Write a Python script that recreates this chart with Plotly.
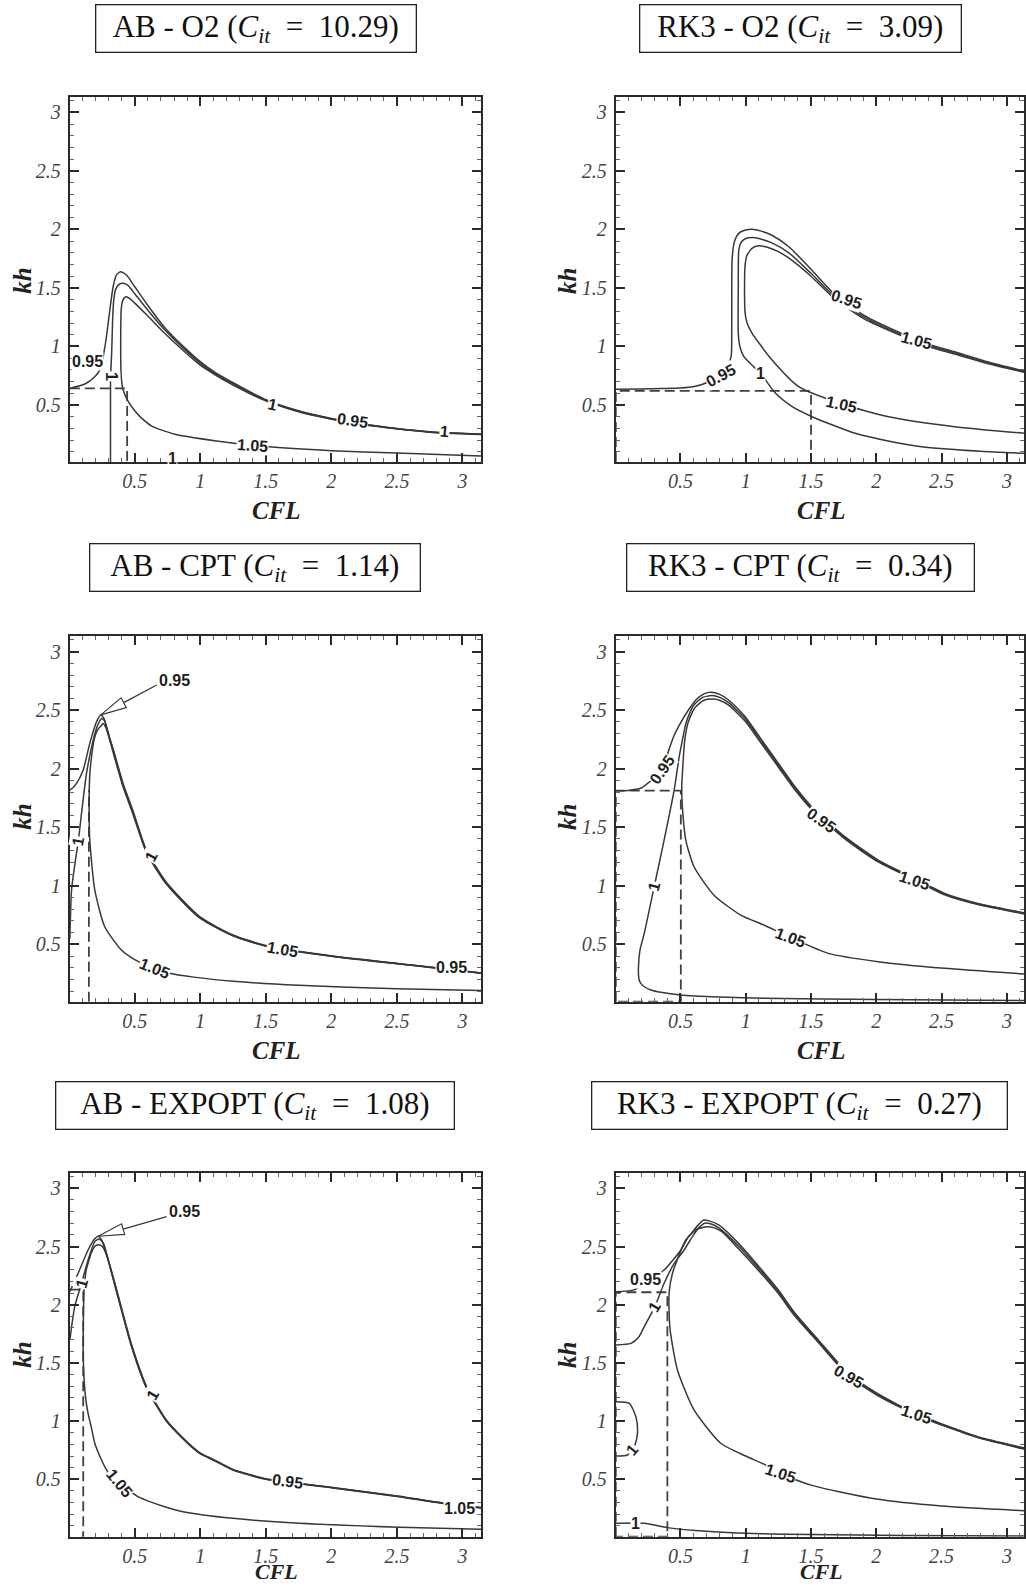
import math
import plotly.graph_objects as go

# ---------------- data ----------------
# Panel 1: AB - O2
P1_095_X = [0.005, 0.119, 0.195, 0.234, 0.259, 0.284, 0.31, 0.335, 0.36, 0.391, 0.437, 0.50, 0.60, 0.73, 0.88, 1.0, 1.11, 1.25, 1.50, 1.75, 2.0, 2.25, 2.5, 2.75, 3.142]
P1_095_Y = [0.642, 0.679, 0.742, 0.80, 0.913, 1.083, 1.311, 1.51, 1.61, 1.639, 1.61, 1.51, 1.35, 1.16, 0.99, 0.87, 0.78, 0.69, 0.545, 0.45, 0.385, 0.335, 0.30, 0.272, 0.252]
P1_100_X = [0.315, 0.315, 0.318, 0.324, 0.328, 0.332, 0.34, 0.355, 0.38, 0.411, 0.45, 0.50, 0.60, 0.73, 0.88, 1.0, 1.11, 1.25, 1.50, 1.75, 2.0, 2.25, 2.5, 2.75, 3.142]
P1_100_Y = [0.012, 0.72, 0.80, 0.95, 1.10, 1.25, 1.40, 1.49, 1.53, 1.539, 1.52, 1.45, 1.31, 1.14, 0.975, 0.855, 0.77, 0.68, 0.54, 0.446, 0.382, 0.333, 0.298, 0.27, 0.25]
P1_105_X = [3.142, 2.5, 2.0, 1.5, 1.109, 0.805, 0.63, 0.55, 0.50, 0.45, 0.411, 0.397, 0.393, 0.393, 0.396, 0.405, 0.42, 0.437, 0.46, 0.50, 0.60, 0.73, 0.88, 1.0, 1.11, 1.25, 1.5, 1.75, 2.0, 2.25, 2.5, 2.75, 3.142]
P1_105_Y = [0.065, 0.09, 0.11, 0.145, 0.195, 0.25, 0.32, 0.39, 0.45, 0.53, 0.63, 0.74, 0.90, 1.10, 1.30, 1.38, 1.415, 1.425, 1.41, 1.37, 1.26, 1.11, 0.955, 0.84, 0.76, 0.67, 0.535, 0.442, 0.379, 0.331, 0.296, 0.268, 0.248]
P1_DASH_X = [0.005, 0.442, 0.442]
P1_DASH_Y = [0.642, 0.642, 0.013]
P1_LBL_TEXT = ["0.95", "1", "1", "0.95", "1", "1.05", "1"]
P1_LBL_X = [0.14, 0.322, 1.553, 2.16, 2.86, 1.40, 0.79]
P1_LBL_Y = [0.87, 0.745, 0.50, 0.366, 0.272, 0.15, 0.045]
P1_LBL_ANG = [0, 90, 12, 8, 5, 4, 0]

# Panel 2: RK3 - O2
P2_095_X = [0.005, 0.2, 0.36, 0.5, 0.614, 0.70, 0.808, 0.86, 0.885, 0.891, 0.893, 0.896, 0.915, 0.95, 1.0, 1.062, 1.12, 1.2, 1.33, 1.5, 1.673, 1.9, 2.194, 2.4, 2.6, 2.85, 3.131]
P2_095_Y = [0.634, 0.636, 0.64, 0.645, 0.66, 0.69, 0.756, 0.83, 0.90, 0.95, 1.30, 1.75, 1.90, 1.97, 1.995, 2.0, 1.985, 1.95, 1.852, 1.66, 1.454, 1.27, 1.112, 1.02, 0.955, 0.87, 0.79]
P2_100_X = [3.131, 2.8, 2.347, 2.1, 1.839, 1.508, 1.35, 1.228, 1.113, 1.03, 0.986, 0.955, 0.943, 0.943, 0.947, 0.965, 1.0, 1.05, 1.1, 1.2, 1.33, 1.5, 1.673, 1.9, 2.194, 2.4, 2.6, 2.85, 3.131]
P2_100_Y = [0.087, 0.105, 0.144, 0.19, 0.258, 0.40, 0.49, 0.60, 0.77, 0.86, 0.913, 1.0, 1.11, 1.5, 1.824, 1.89, 1.922, 1.93, 1.922, 1.885, 1.80, 1.625, 1.435, 1.255, 1.10, 1.01, 0.945, 0.862, 0.785]
P2_105_X = [3.131, 2.6, 2.093, 1.737, 1.406, 1.202, 1.049, 1.01, 0.994, 0.994, 1.01, 1.05, 1.1, 1.16, 1.25, 1.35, 1.5, 1.673, 1.9, 2.194, 2.4, 2.6, 2.85, 3.131]
P2_105_Y = [0.258, 0.315, 0.40, 0.508, 0.656, 0.884, 1.112, 1.2, 1.3, 1.68, 1.78, 1.84, 1.86, 1.85, 1.81, 1.74, 1.60, 1.415, 1.24, 1.09, 1.0, 0.935, 0.855, 0.78]
P2_DASH_X = [0.005, 0.005, 1.5, 1.5]
P2_DASH_Y = [0.013, 0.62, 0.62, 0.013]
P2_LBL_TEXT = ["0.95", "1", "1.05", "0.95", "1.05"]
P2_LBL_X = [0.808, 1.113, 1.737, 1.775, 2.31]
P2_LBL_Y = [0.756, 0.77, 0.508, 1.40, 1.055]
P2_LBL_ANG = [-28, 0, 12, 18, 15]

# Panel 3: AB - CPT
P3_095_X = [0.005, 0.03, 0.056, 0.107, 0.157, 0.208, 0.241, 0.265, 0.29, 0.335, 0.411, 0.487, 0.589, 0.741, 0.995, 1.249, 1.50, 2.01, 2.52, 2.77, 3.142]
P3_095_Y = [1.818, 1.84, 1.875, 1.99, 2.217, 2.40, 2.46, 2.43, 2.33, 2.17, 1.875, 1.64, 1.305, 1.03, 0.736, 0.58, 0.49, 0.40, 0.335, 0.305, 0.256]
P3_100_X = [0.005, 0.018, 0.045, 0.069, 0.094, 0.132, 0.183, 0.22, 0.248, 0.27, 0.295, 0.335, 0.411, 0.487, 0.589, 0.741, 0.995, 1.249, 1.5, 2.01, 2.52, 2.77, 3.142]
P3_100_Y = [0.55, 0.964, 1.20, 1.377, 1.62, 1.96, 2.245, 2.38, 2.43, 2.41, 2.32, 2.155, 1.86, 1.625, 1.295, 1.022, 0.73, 0.576, 0.487, 0.398, 0.333, 0.303, 0.255]
P3_105_X = [3.142, 2.5, 1.75, 1.25, 0.95, 0.805, 0.652, 0.50, 0.398, 0.271, 0.195, 0.157, 0.152, 0.157, 0.17, 0.19, 0.215, 0.245, 0.259, 0.28, 0.30, 0.335, 0.411, 0.487, 0.589, 0.741, 0.995, 1.249, 1.5, 2.01, 2.52, 2.77, 3.142]
P3_105_Y = [0.105, 0.12, 0.15, 0.185, 0.22, 0.245, 0.29, 0.37, 0.452, 0.65, 0.965, 1.39, 1.70, 1.95, 2.10, 2.25, 2.33, 2.37, 2.386, 2.35, 2.28, 2.14, 1.845, 1.61, 1.285, 1.015, 0.725, 0.572, 0.484, 0.396, 0.331, 0.301, 0.254]
P3_DASH_X = [0.15, 0.15]
P3_DASH_Y = [0.01, 1.818]
P3_LBL_TEXT = ["1", "1.05", "0.95", "1", "1.05"]
P3_LBL_X = [0.627, 1.63, 2.916, 0.069, 0.652]
P3_LBL_Y = [1.249, 0.457, 0.30, 1.377, 0.29]
P3_LBL_ANG = [-62, 10, 0, -80, 22]
P3_ARROW_TEXT_X = 0.805
P3_ARROW_TEXT_Y = 2.758

# Panel 4: RK3 - CPT
P4_095_X = [0.005, 0.1, 0.2, 0.248, 0.3, 0.363, 0.411, 0.45, 0.5, 0.56, 0.62, 0.68, 0.734, 0.8, 0.869, 0.996, 1.123, 1.25, 1.378, 1.505, 1.759, 2.014, 2.294, 2.523, 2.777, 3.131]
P4_095_Y = [1.813, 1.815, 1.835, 1.875, 1.92, 1.99, 2.16, 2.28, 2.39, 2.50, 2.59, 2.64, 2.653, 2.635, 2.587, 2.445, 2.245, 2.046, 1.846, 1.676, 1.42, 1.22, 1.064, 0.935, 0.85, 0.77]
P4_100_X = [3.131, 2.0, 1.139, 0.8, 0.503, 0.35, 0.274, 0.22, 0.197, 0.184, 0.178, 0.19, 0.223, 0.299, 0.375, 0.452, 0.49, 0.515, 0.545, 0.6, 0.67, 0.742, 0.8, 0.869, 0.996, 1.123, 1.25, 1.378, 1.505, 1.759, 2.014, 2.294, 2.523, 2.777, 3.131]
P4_100_Y = [0.02, 0.028, 0.039, 0.05, 0.067, 0.09, 0.11, 0.14, 0.167, 0.195, 0.29, 0.45, 0.594, 0.992, 1.391, 1.818, 2.10, 2.245, 2.40, 2.54, 2.61, 2.625, 2.61, 2.565, 2.425, 2.228, 2.03, 1.832, 1.664, 1.41, 1.212, 1.057, 0.929, 0.845, 0.765]
P4_105_X = [3.131, 2.523, 2.014, 1.632, 1.34, 1.139, 0.961, 0.757, 0.604, 0.541, 0.515, 0.51, 0.515, 0.533, 0.56, 0.61, 0.68, 0.754, 0.8, 0.869, 0.996, 1.123, 1.25, 1.378, 1.505, 1.759, 2.014, 2.294, 2.523, 2.777, 3.131]
P4_105_Y = [0.247, 0.295, 0.352, 0.423, 0.56, 0.665, 0.75, 0.92, 1.163, 1.391, 1.676, 1.85, 1.96, 2.245, 2.40, 2.52, 2.585, 2.596, 2.585, 2.543, 2.405, 2.21, 2.015, 1.818, 1.652, 1.40, 1.204, 1.05, 0.923, 0.84, 0.76]
P4_DASH_X = [0.005, 0.005, 0.503, 0.503, 0.005]
P4_DASH_Y = [0.01, 1.813, 1.813, 0.01, 0.01]
P4_LBL_TEXT = ["0.95", "1", "0.95", "1.05", "1.05"]
P4_LBL_X = [0.363, 0.299, 1.582, 2.294, 1.34]
P4_LBL_Y = [1.99, 0.992, 1.562, 1.044, 0.56]
P4_LBL_ANG = [-55, -75, 35, 18, 20]

# Panel 5: AB - EXPOPT
P5_095_X = [0.005, 0.068, 0.144, 0.19, 0.221, 0.25, 0.284, 0.335, 0.411, 0.475, 0.589, 0.741, 0.855, 0.995, 1.109, 1.249, 1.5, 2.01, 2.518, 2.77, 3.142]
P5_095_Y = [2.112, 2.27, 2.47, 2.56, 2.588, 2.55, 2.43, 2.24, 1.92, 1.66, 1.30, 1.01, 0.87, 0.73, 0.665, 0.585, 0.505, 0.43, 0.355, 0.31, 0.258]
P5_100_X = [0.005, 0.042, 0.094, 0.144, 0.195, 0.228, 0.26, 0.29, 0.335, 0.411, 0.475, 0.589, 0.741, 0.855, 0.995, 1.109, 1.249, 1.5, 2.01, 2.518, 2.77, 3.142]
P5_100_Y = [1.697, 1.983, 2.184, 2.384, 2.542, 2.565, 2.53, 2.42, 2.23, 1.91, 1.65, 1.292, 1.005, 0.866, 0.726, 0.662, 0.582, 0.502, 0.428, 0.353, 0.308, 0.256]
P5_105_X = [3.142, 2.518, 1.756, 1.249, 0.868, 0.728, 0.614, 0.525, 0.45, 0.386, 0.31, 0.271, 0.233, 0.195, 0.17, 0.144, 0.125, 0.114, 0.107, 0.107, 0.114, 0.13, 0.144, 0.17, 0.2, 0.234, 0.26, 0.29, 0.335, 0.411, 0.475, 0.589, 0.741, 0.855, 0.995, 1.109, 1.249, 1.5, 2.01, 2.518, 2.77, 3.142]
P5_105_Y = [0.07, 0.088, 0.122, 0.165, 0.222, 0.265, 0.308, 0.351, 0.41, 0.466, 0.54, 0.609, 0.70, 0.81, 0.94, 1.067, 1.20, 1.353, 1.55, 1.783, 2.127, 2.30, 2.356, 2.45, 2.505, 2.513, 2.49, 2.41, 2.22, 1.90, 1.64, 1.285, 1.0, 0.862, 0.722, 0.659, 0.58, 0.50, 0.426, 0.351, 0.306, 0.254]
P5_DASH_X = [0.005, 0.107, 0.107]
P5_DASH_Y = [2.13, 2.13, 0.007]
P5_LBL_TEXT = ["1", "1", "0.95", "1.05", "1.05"]
P5_LBL_X = [0.094, 0.632, 1.668, 2.975, 0.386]
P5_LBL_Y = [2.184, 1.224, 0.48, 0.25, 0.466]
P5_LBL_ANG = [-75, -60, 8, 0, 50]
P5_ARROW_TEXT_X = 0.88
P5_ARROW_TEXT_Y = 2.80

# Panel 6: RK3 - EXPOPT
P6_095_X = [0.005, 0.146, 0.236, 0.3, 0.375, 0.44, 0.503, 0.56, 0.604, 0.64, 0.678, 0.72, 0.793, 0.945, 1.123, 1.25, 1.378, 1.556, 1.785, 2.014, 2.307, 2.523, 2.777, 3.131]
P6_095_Y = [2.112, 2.127, 2.20, 2.245, 2.298, 2.38, 2.47, 2.58, 2.642, 2.69, 2.728, 2.72, 2.685, 2.527, 2.298, 2.126, 1.926, 1.697, 1.41, 1.233, 1.061, 0.967, 0.866, 0.77]
P6_100A_X = [0.005, 0.121, 0.18, 0.223, 0.304, 0.375, 0.45, 0.528, 0.6, 0.64, 0.686, 0.73, 0.793, 0.945, 1.123, 1.25, 1.378, 1.556, 1.785, 2.014, 2.307, 2.523, 2.777, 3.131]
P6_100A_Y = [1.654, 1.668, 1.72, 1.811, 1.983, 2.184, 2.35, 2.47, 2.60, 2.66, 2.70, 2.695, 2.66, 2.505, 2.28, 2.11, 1.912, 1.685, 1.40, 1.225, 1.055, 0.962, 0.862, 0.765]
P6_100B_X = [0.005, 0.108, 0.159, 0.172, 0.165, 0.146, 0.095, 0.005]
P6_100B_Y = [1.167, 1.153, 1.038, 0.924, 0.85, 0.78, 0.709, 0.70]
P6_100C_X = [0.005, 0.223, 0.40, 0.614, 0.996, 1.5, 2.2, 3.131]
P6_100C_Y = [0.122, 0.122, 0.085, 0.06, 0.036, 0.025, 0.018, 0.012]
P6_105_X = [3.131, 2.5, 2.0, 1.5, 1.27, 1.139, 1.0, 0.808, 0.604, 0.477, 0.421, 0.413, 0.413, 0.439, 0.541, 0.62, 0.704, 0.76, 0.82, 0.945, 1.123, 1.25, 1.378, 1.556, 1.785, 2.014, 2.307, 2.523, 2.777, 3.131]
P6_105_Y = [0.23, 0.27, 0.33, 0.45, 0.55, 0.63, 0.70, 0.81, 1.096, 1.439, 1.783, 1.95, 2.10, 2.27, 2.556, 2.645, 2.67, 2.66, 2.625, 2.48, 2.262, 2.095, 1.90, 1.675, 1.39, 1.218, 1.05, 0.957, 0.858, 0.76]
P6_DASH_X = [0.005, 0.005, 0.40, 0.40, 0.005]
P6_DASH_Y = [0.007, 2.107, 2.107, 0.007, 0.007]
P6_LBL_TEXT = ["0.95", "1", "1", "1", "0.95", "1.05", "1.05"]
P6_LBL_X = [0.236, 0.304, 0.134, 0.159, 1.785, 2.307, 1.27]
P6_LBL_Y = [2.215, 1.983, 0.752, 0.122, 1.38, 1.061, 0.55]
P6_LBL_ANG = [0, -60, -50, 0, 30, 18, 18]

TITLES = ["AB - O2", "RK3 - O2", "AB - CPT", "RK3 - CPT", "AB - EXPOPT", "RK3 - EXPOPT"]
C_IT = ["10.29", "3.09", "1.14", "0.34", "1.08", "0.27"]

# ---------------- layout geometry (pixels) ----------------
W, H = 1026, 1586
COLS = {"L": (70, 482, 0.005, 3.142), "R": (617, 1026, 0.005, 3.131)}
ROWS = {1: (97, 462, 0.013, 3.131), 2: (636, 1001.7, 0.010, 3.134), 3: (1172.7, 1536.7, 0.007, 3.134)}
PANELS = [(1, "L", 1), (2, "R", 1), (3, "L", 2), (4, "R", 2), (5, "L", 3), (6, "R", 3)]
TITLE_BOX = [(256, 28.5, 322), (802, 28.5, 323), (255.2, 567.2, 332), (801.7, 567.5, 349), (255.7, 1105, 400), (801.5, 1105, 417)]
XLAB = [(276.7, 511), (823, 511), (276.7, 1050), (823, 1050), (276.7, None), (823, None)]
YLAB = [(21.7, 281), (568, 281), (21.7, 817), (568, 817), (21.7, 1355), (568, 1355)]

LINE = "#383838"
DASHC = "#404040"

fig = go.Figure()

axis_common = dict(
    showgrid=False, zeroline=False, showline=True, linecolor="#2a2a2a", linewidth=2,
    mirror="allticks", ticks="inside", ticklen=9, tickwidth=1.5, tickcolor="#2a2a2a",
    tickmode="linear", tick0=0, dtick=0.5,
    tickfont=dict(family="Liberation Serif", size=20, color="#444444", style="italic"),
    minor=dict(ticks="inside", ticklen=4, tickwidth=1, tickcolor="#666666", tick0=0, dtick=0.1),
    fixedrange=True,
)

scales = {}
for idx, col, row in PANELS:
    x0, x1, xr0, xr1 = COLS[col]
    y0, y1, yr0, yr1 = ROWS[row]
    s = "" if idx == 1 else str(idx)
    fig.update_layout(**{
        "xaxis" + s: dict(domain=[x0 / W, x1 / W], range=[xr0, xr1], anchor="y" + s, **axis_common),
        "yaxis" + s: dict(domain=[1 - y1 / H, 1 - y0 / H], range=[yr0, yr1], anchor="x" + s,
                          ticklabelstandoff=3, **axis_common),
    })
    scales[idx] = ((x1 - x0) / (xr1 - xr0), (y1 - y0) / (yr1 - yr0))

CURVES = {
    1: [(P1_095_X, P1_095_Y), (P1_100_X, P1_100_Y), (P1_105_X, P1_105_Y)],
    2: [(P2_095_X, P2_095_Y), (P2_100_X, P2_100_Y), (P2_105_X, P2_105_Y)],
    3: [(P3_095_X, P3_095_Y), (P3_100_X, P3_100_Y), (P3_105_X, P3_105_Y)],
    4: [(P4_095_X, P4_095_Y), (P4_100_X, P4_100_Y), (P4_105_X, P4_105_Y)],
    5: [(P5_095_X, P5_095_Y), (P5_100_X, P5_100_Y), (P5_105_X, P5_105_Y)],
    6: [(P6_095_X, P6_095_Y), (P6_100A_X, P6_100A_Y), (P6_100B_X, P6_100B_Y), (P6_100C_X, P6_100C_Y), (P6_105_X, P6_105_Y)],
}
DASHES = {1: (P1_DASH_X, P1_DASH_Y), 2: (P2_DASH_X, P2_DASH_Y), 3: (P3_DASH_X, P3_DASH_Y),
          4: (P4_DASH_X, P4_DASH_Y), 5: (P5_DASH_X, P5_DASH_Y), 6: (P6_DASH_X, P6_DASH_Y)}
LABELS = {
    1: (P1_LBL_TEXT, P1_LBL_X, P1_LBL_Y, P1_LBL_ANG),
    2: (P2_LBL_TEXT, P2_LBL_X, P2_LBL_Y, P2_LBL_ANG),
    3: (P3_LBL_TEXT, P3_LBL_X, P3_LBL_Y, P3_LBL_ANG),
    4: (P4_LBL_TEXT, P4_LBL_X, P4_LBL_Y, P4_LBL_ANG),
    5: (P5_LBL_TEXT, P5_LBL_X, P5_LBL_Y, P5_LBL_ANG),
    6: (P6_LBL_TEXT, P6_LBL_X, P6_LBL_Y, P6_LBL_ANG),
}
ARROWS = {3: (P3_095_X, P3_095_Y, P3_ARROW_TEXT_X, P3_ARROW_TEXT_Y),
          5: (P5_095_X, P5_095_Y, P5_ARROW_TEXT_X, P5_ARROW_TEXT_Y)}

annotations = []
for idx, col, row in PANELS:
    s = "" if idx == 1 else str(idx)
    xa, ya = "x" + s, "y" + s
    dx_, dy_ = DASHES[idx]
    fig.add_trace(go.Scatter(x=dx_, y=dy_, mode="lines", xaxis=xa, yaxis=ya,
                             line=dict(color=DASHC, width=1.8, dash="10px,5px"),
                             showlegend=False, hoverinfo="skip"))
    for cx, cy in CURVES[idx]:
        fig.add_trace(go.Scatter(x=cx, y=cy, mode="lines", xaxis=xa, yaxis=ya,
                                 line=dict(color=LINE, width=1.5, shape="spline", smoothing=0.6),
                                 showlegend=False, hoverinfo="skip"))
    texts, lx, ly, la = LABELS[idx]
    for t, x, y, a in zip(texts, lx, ly, la):
        annotations.append(dict(x=x, y=y, xref=xa, yref=ya, text="<b>" + t + "</b>", showarrow=False,
                                textangle=a, font=dict(family="Liberation Sans", size=16, color="#1e1e1e"),
                                bgcolor="white", borderpad=0))
    if idx in ARROWS:
        px_, py_, tx_, ty_ = ARROWS[idx]
        sx, sy = scales[idx]
        k = max(range(len(py_)), key=lambda i: py_[i])
        tip = (px_[k], py_[k])
        tail = (tx_ - 18 / sx, ty_ - 5 / sy)
        tpx, tpy = tip[0] * sx, tip[1] * sy
        upx, upy = tail[0] * sx, tail[1] * sy
        ddx, ddy = upx - tpx, upy - tpy
        L = math.hypot(ddx, ddy)
        ddx, ddy = ddx / L, ddy / L
        hl, hw = 26, 5.5
        bx, by = tpx + ddx * hl, tpy + ddy * hl
        nx, ny = -ddy, ddx
        poly = [(tpx, tpy), (bx + nx * hw, by + ny * hw), (bx - nx * hw, by - ny * hw), (tpx, tpy)]
        fig.add_trace(go.Scatter(x=[bx / sx, tail[0]], y=[by / sy, tail[1]], mode="lines", xaxis=xa, yaxis=ya,
                                 line=dict(color=LINE, width=1.3), showlegend=False, hoverinfo="skip"))
        fig.add_trace(go.Scatter(x=[p[0] / sx for p in poly], y=[p[1] / sy for p in poly], mode="lines",
                                 fill="toself", fillcolor="white", xaxis=xa, yaxis=ya,
                                 line=dict(color=LINE, width=1.2), showlegend=False, hoverinfo="skip"))
        annotations.append(dict(x=tx_, y=ty_, xref=xa, yref=ya, text="<b>0.95</b>", showarrow=False,
                                font=dict(family="Liberation Sans", size=16, color="#1e1e1e")))

# titles, axis titles
for i in range(6):
    cx, cy, bw = TITLE_BOX[i]
    annotations.append(dict(
        x=cx / W, y=1 - cy / H, xref="paper", yref="paper", xanchor="center", yanchor="middle",
        text=TITLES[i] + " (<i>C</i><sub><i>it</i></sub>&nbsp;&nbsp;=&nbsp;&nbsp;" + C_IT[i] + ")",
        showarrow=False, font=dict(family="Liberation Serif", size=31, color="#111111"),
        bordercolor="#222222", borderwidth=1.3, borderpad=0, bgcolor="white",
        width=bw - 3, height=46, align="center", valign="middle"))
    ax_, ay_ = XLAB[i]
    if ay_ is None:
        annotations.append(dict(x=ax_ / W, y=0, xref="paper", yref="paper", xanchor="center",
                                yanchor="bottom", text="<b><i>CFL</i></b>", showarrow=False,
                                font=dict(family="Liberation Serif", size=22, color="#222222")))
    else:
        annotations.append(dict(x=ax_ / W, y=1 - ay_ / H, xref="paper", yref="paper", xanchor="center",
                                yanchor="middle", text="<b><i>CFL</i></b>", showarrow=False,
                                font=dict(family="Liberation Serif", size=25, color="#222222")))
    kx, ky = YLAB[i]
    annotations.append(dict(x=kx / W, y=1 - ky / H, xref="paper", yref="paper", xanchor="center",
                            yanchor="middle", text="<b><i>kh</i></b>", showarrow=False, textangle=-90,
                            font=dict(family="Liberation Serif", size=25, color="#222222")))

fig.update_layout(
    width=W, height=H, margin=dict(l=0, r=0, t=0, b=0),
    paper_bgcolor="white", plot_bgcolor="white",
    showlegend=False, annotations=annotations,
)

fig.write_html("out.html", config={"displayModeBar": False},
               post_script="document.body.style.margin='0px';document.body.style.padding='0px';document.body.style.overflow='hidden';")
